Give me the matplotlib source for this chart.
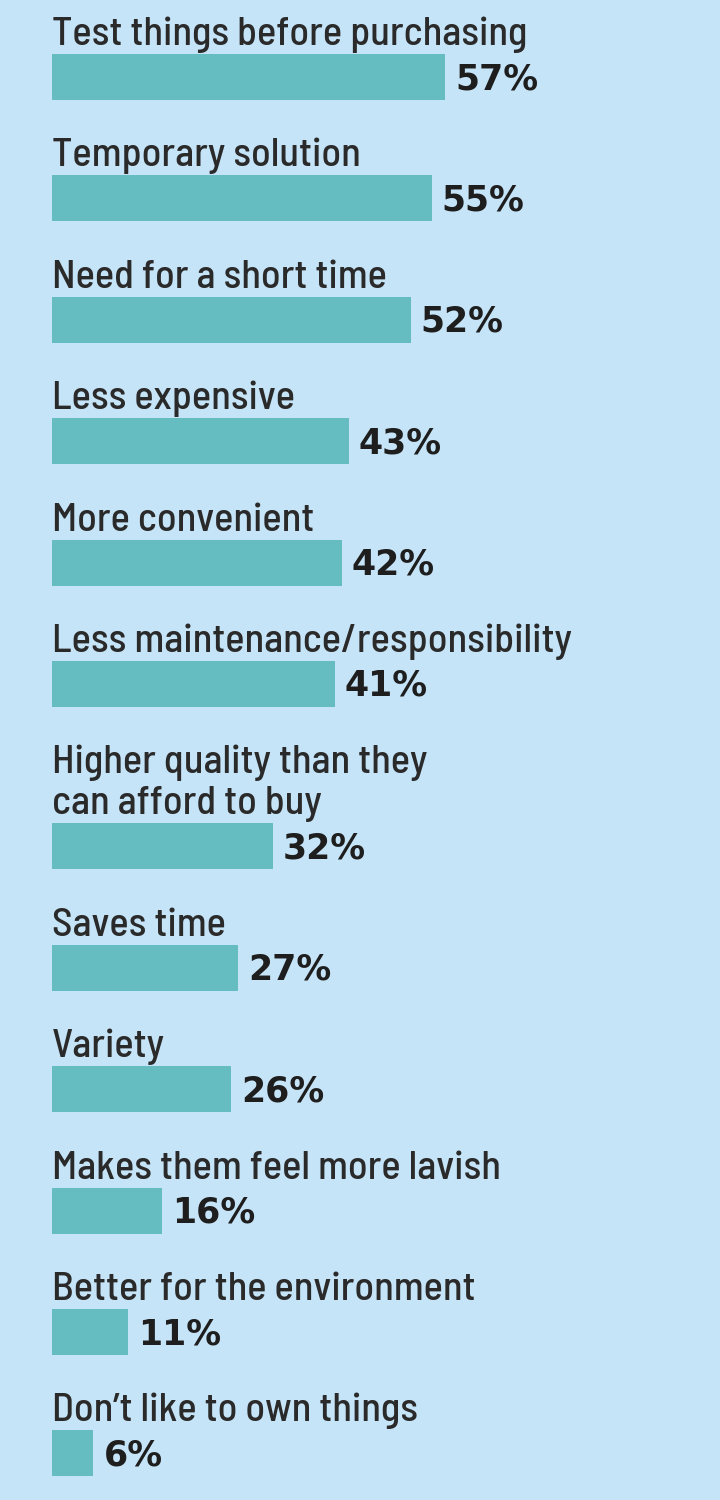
import matplotlib.pyplot as plt

labels = [
    'Test things before purchasing',
    'Temporary solution',
    'Need for a short time',
    'Less expensive',
    'More convenient',
    'Less maintenance/responsibility',
    'Higher quality than they\ncan afford to buy',
    'Saves time',
    'Variety',
    'Makes them feel more lavish',
    'Better for the environment',
    'Don\u2019t like to own things',
]
values = [57, 55, 52, 43, 42, 41, 32, 27, 26, 16, 11, 6]

bg = '#c6e4f7'
bar_color = '#66bdc1'

fig = plt.figure(figsize=(7.2, 15), dpi=100, facecolor=bg)
# axes in percent units horizontally, pixel-ish rows vertically
ax = fig.add_axes([52 / 720, 0, 1 - 52 / 720, 1])
ax.set_facecolor(bg)
ax.set_xlim(0, (720 - 52) / 6.9)
ax.set_ylim(1500, 0)
ax.axis('off')

row_pitch = 121.4
extra_line = 41
bar_h = 46

y = 77 - row_pitch
for label, val in zip(labels, values):
    lines = label.split('\n')
    y += row_pitch + extra_line * (len(lines) - 1)
    ax.barh(y, val, height=bar_h, left=0, color=bar_color)
    top = y - bar_h / 2
    for i, line in enumerate(lines):
        base = top - 9 - extra_line * (len(lines) - 1 - i)
        ax.text(0, base, line, ha='left', va='baseline', fontsize=29,
                fontweight='medium',
                family=['Barlow Semi Condensed', 'DejaVu Sans'], color='#2a2a2a')
    ax.annotate(f'{val}%', xy=(val, y), xytext=(10, -2), textcoords='offset pixels',
                ha='left', va='center', fontsize=25, fontweight='bold',
                family='DejaVu Sans', color='#1e1e1e')

fig.savefig('out.png', dpi=100, facecolor=bg)
